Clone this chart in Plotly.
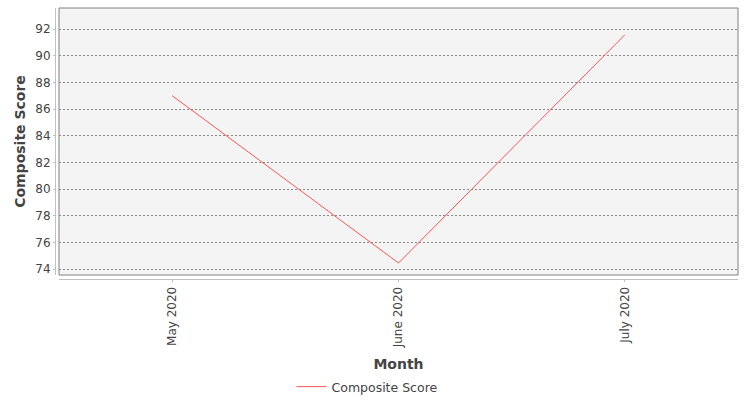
import plotly.graph_objects as go

months = ["May 2020", "June 2020", "July 2020"]
composite_score = [87.0, 74.45, 91.57]
y_ticks = [74, 76, 78, 80, 82, 84, 86, 88, 90, 92]

W, H = 750, 400
ml, mr, mt, mb = 55, 12, 8, 121
pw, ph = W - ml - mr, H - mt - mb
off = 4

fig = go.Figure()
fig.add_trace(go.Scatter(
    x=months, y=composite_score, mode="lines", name="Composite Score",
    line=dict(color="#ff5555", width=1, simplify=False),
    cliponaxis=True,
))

font = "DejaVu Sans, Verdana, sans-serif"
fig.update_layout(
    width=W, height=H,
    margin=dict(l=ml, r=mr, t=mt, b=mb, autoexpand=False),
    paper_bgcolor="white",
    plot_bgcolor="#f4f4f4",
    font=dict(family=font, size=12, color="#444444"),
    hovermode=False,
    showlegend=True,
    legend=dict(
        orientation="h", xref="container", yref="container",
        x=0.49, xanchor="center", y=1 - 387 / H, yanchor="middle",
        font=dict(size=12.5, color="#444444"), itemwidth=30,
        bgcolor="rgba(0,0,0,0)",
    ),
    xaxis=dict(
        domain=[off / pw, 1], anchor="free", position=0,
        type="category", range=[-0.5, 2.5],
        showline=True, linecolor="#c0c0c0", linewidth=1,
        ticks="outside", ticklen=2, tickcolor="#c0c0c0",
        tickangle=-90, tickfont=dict(size=12, color="#444444"),
        showgrid=False, zeroline=False,
        title=dict(text="<b>Month</b>", font=dict(size=14, color="#444444"), standoff=12),
    ),
    yaxis=dict(
        domain=[off / ph, 1], anchor="free", position=0,
        range=[73.55, 93.58], tickvals=y_ticks,
        showline=True, linecolor="#c0c0c0", linewidth=1,
        ticks="outside", ticklen=2, tickcolor="#c0c0c0",
        tickfont=dict(size=12, color="#444444"),
        showgrid=True, gridcolor="#8a8a8a", gridwidth=1, griddash="2px,2px",
        zeroline=False,
        title=dict(text="<b>Composite Score</b>", font=dict(size=14, color="#444444"), standoff=5),
    ),
    shapes=[dict(
        type="rect", xref="x domain", yref="y domain",
        x0=0, x1=1, y0=0, y1=1,
        line=dict(color="#808080", width=1), fillcolor="rgba(0,0,0,0)",
        layer="below",
    )],
)

fig.write_html(
    "out.html",
    config={"displayModeBar": False, "staticPlot": True},
    post_script="document.body.style.margin='0';document.body.style.overflow='hidden';",
)
